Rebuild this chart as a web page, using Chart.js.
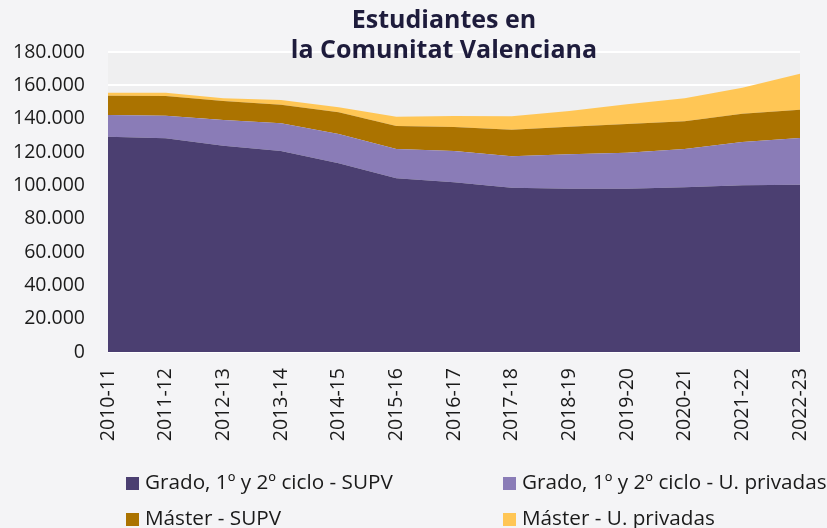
<!DOCTYPE html>
<html>
<head>
<meta charset="utf-8">
<script src="https://cdn.jsdelivr.net/npm/chart.js@4"></script>
<style>
  html, body { margin: 0; padding: 0; background: #f4f4f6; }
  #wrap { position: relative; width: 827px; height: 528px; font-family: "Open Sans", sans-serif; }
  #chart { position: absolute; left: 0; top: 0; }
  #title {
    position: absolute; left: 0; top: 3px; width: 888px; text-align: center;
    font-weight: bold; font-size: 25px; line-height: 30px; color: #1e1c3c;
  }
  .legend-item { position: absolute; font-size: 20.7px; color: #1a1a1a; white-space: nowrap; line-height: 20px; }
  .legend-item span { display: inline-block; width: 13px; height: 13px; margin-right: 6px; vertical-align: -1px; }
</style>
</head>
<body>
<div id="wrap">
  <canvas id="chart" width="827" height="528"></canvas>
  <div id="title">Estudiantes en<br>la Comunitat Valenciana</div>
  <div id="legend"></div>
</div>
<script>
const categories = ["2010-11", "2011-12", "2012-13", "2013-14", "2014-15", "2015-16", "2016-17",
  "2017-18", "2018-19", "2019-20", "2020-21", "2021-22", "2022-23"];
const gradoSupv = [129200, 128200, 123800, 120600, 113200, 104200, 101800, 98600, 98000, 98000, 98800, 100000, 100400];
const gradoPriv = [13000, 13600, 15400, 16600, 17600, 17600, 18800, 18800, 20600, 21600, 23000, 26000, 28000];
const masterSupv = [11600, 11800, 11400, 11200, 13000, 13800, 14400, 16000, 16600, 17200, 16600, 17000, 17000];
const masterPriv = [1800, 2000, 1600, 2800, 3000, 5600, 6600, 8000, 9400, 11800, 13800, 15600, 21600];
const yTicks = [0, 20000, 40000, 60000, 80000, 100000, 120000, 140000, 160000, 180000];

const labels = ["Grado, 1º y 2º ciclo - SUPV", "Grado, 1º y 2º ciclo - U. privadas", "Máster - SUPV", "Máster - U. privadas"];
const colors = ["#4b3f71", "#8a7cb7", "#ab7300", "#ffc655"];

function thousands(v) {
  return String(v).replace(/\B(?=(\d{3})+(?!\d))/g, ".");
}

const plotBg = {
  id: "plotBg",
  beforeDraw(chart) {
    const a = chart.chartArea;
    const ctx = chart.ctx;
    ctx.save();
    ctx.fillStyle = "#efeff0";
    ctx.fillRect(a.left, a.top, a.right - a.left, a.bottom - a.top);
    ctx.restore();
  },
};

const series = [gradoSupv, gradoPriv, masterSupv, masterPriv];

const chart = new Chart(document.getElementById("chart"), {
  type: "line",
  data: {
    labels: categories,
    datasets: series.map((data, i) => ({
      label: labels[i],
      data,
      backgroundColor: colors[i],
      borderColor: colors[i],
      borderWidth: 0,
      pointRadius: 0,
      tension: 0,
      fill: i === 0 ? "origin" : "-1",
    })),
  },
  options: {
    responsive: false,
    animation: false,
    layout: { padding: { top: 52, right: 27, left: 0, bottom: 0 } },
    plugins: { legend: { display: false }, title: { display: false }, tooltip: { enabled: false } },
    scales: {
      x: {
        offset: false,
        grid: { display: false },
        border: { display: false },
        ticks: {
          color: "#1a1a1a",
          font: { family: "Open Sans", size: 19.5 },
          minRotation: 90,
          maxRotation: 90,
          padding: 8,
          autoSkip: false,
        },
        afterFit(scale) {
          scale.height = 176;
          scale.paddingLeft = 0;
          scale.paddingRight = 0;
        },
      },
      y: {
        stacked: true,
        min: 0,
        max: 180000,
        afterBuildTicks(scale) { scale.ticks = yTicks.map((v) => ({ value: v })); },
        grid: { color: "#ffffff", lineWidth: 2, drawTicks: false },
        border: { display: false },
        ticks: {
          color: "#1a1a1a",
          font: { family: "Open Sans", size: 19.5 },
          padding: 23,
          callback: (v) => thousands(v),
        },
        afterFit(scale) { scale.width = 108; },
      },
    },
  },
  plugins: [plotBg],
});

const legendPos = [[126, 471], [503, 471], [126, 507], [503, 507]];
document.getElementById("legend").innerHTML = chart.data.datasets.map((ds, i) =>
  `<div class="legend-item" style="left:${legendPos[i][0]}px;top:${legendPos[i][1]}px"><span style="background:${ds.backgroundColor}"></span>${ds.label}</div>`
).join("");
</script>
</body>
</html>
